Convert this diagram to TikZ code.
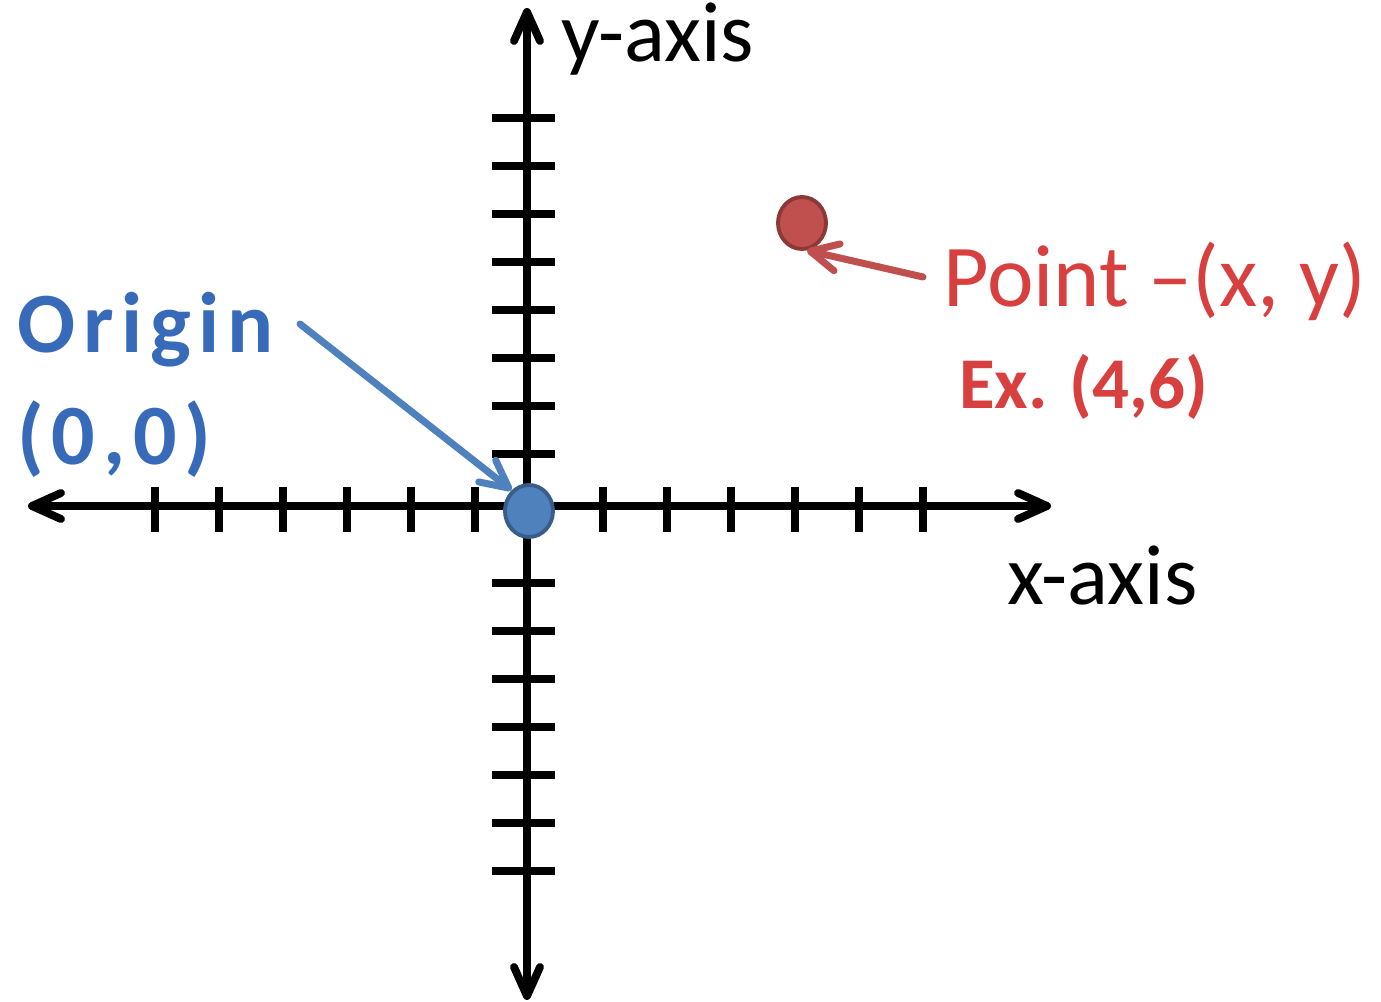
\documentclass[tikz,border=0pt]{standalone}
\usepackage{fontspec}
\setmainfont{Carlito}
\newfontfamily\spacedfont[LetterSpace=9]{Carlito}
\usetikzlibrary{arrows.meta,shapes.geometric}

\definecolor{ptblue}{HTML}{4F81BD}
\definecolor{ptblueedge}{HTML}{385D8A}
\definecolor{ptred}{HTML}{C0504D}
\definecolor{ptrededge}{HTML}{8C3836}
\definecolor{txtblue}{RGB}{56,106,186}
\definecolor{txtred}{RGB}{216,64,64}

\tikzset{
  axisline/.style={line width=4.5pt,
    {Straight Barb[length=0.58cm,width=0.52cm,round]}-{Straight Barb[length=0.58cm,width=0.52cm,round]}},
  tickmark/.style={line width=4.3pt},
  pointdot/.style={ellipse, line width=2.2pt, minimum width=0.96cm, minimum height=1.04cm},
  labelarrow/.style={line width=4pt, line cap=round, -{Straight Barb[length=0.55cm,width=0.55cm,round]}},
  axislabel/.style={font=\fontsize{48.5}{53}\selectfont},
  bluelabel/.style={text=txtblue, font=\spacedfont\bfseries\fontsize{48.9}{54}\selectfont},
  redlabel/.style={text=txtred, font=\fontsize{50.2}{55}\selectfont}
}

\begin{document}
\begin{tikzpicture}[every node/.style={inner sep=0pt}]
    \useasboundingbox (-10.54,-9.92) rectangle (17.08,10.12);

    % Ejes
    \coordinate (xleft) at (-9.98,0);
    \coordinate (xright) at (10.48,0);
    \coordinate (ybottom) at (0,-9.88);
    \coordinate (ytop) at (0,9.96);
    \draw[axisline] (xleft) -- (xright);
    \draw[axisline] (ybottom) -- (ytop);

    % Marcas
    \foreach \x in {-7.44,-6.16,-4.88,-3.60,-2.32,-1.04,1.52,2.80,4.08,5.36,6.64,7.92}
        \draw[tickmark] (\x,0.38) -- (\x,-0.52);
    \foreach \y in {7.76,6.80,5.84,4.88,3.92,2.96,2.00,1.04,-1.54,-2.50,-3.46,-4.42,-5.38,-6.34,-7.30}
        \draw[tickmark] (-0.70,\y) -- (0.56,\y);

    \node[axislabel, anchor=base west] (ylabel) at (0.68,8.88) {y-axis};
    \node[axislabel, anchor=base west] (xlabel) at (9.60,-1.98) {x-axis};

    % Origen
    \node[pointdot, fill=ptblue, draw=ptblueedge] (bdot) at (0.04,-0.10) {};
    \node[bluelabel, anchor=base west] (origintext) at (-10.20,3.06) {Origin};
    \node[bluelabel, anchor=base west] (origincoord) at (-10.20,0.82) {(0,0)};
    \coordinate (btail) at (-4.54,3.64);
    \draw[labelarrow, ptblue] (btail) -- (bdot.130);

    % Punto
    \node[pointdot, fill=ptred, draw=ptrededge] (rdot) at (5.50,5.66) {};
    \node[redlabel, anchor=base west] (pointtext) at (8.32,3.98) {Point --(x, y)};
    \node[redlabel, font=\bfseries\fontsize{41.5}{46}\selectfont, anchor=base west] (pointex)
        at (8.64,1.94) {Ex. (4,6)};
    \coordinate (rtail) at (7.92,4.58);
    \draw[labelarrow, ptred] (rtail) -- (rdot.-80);
\end{tikzpicture}
\end{document}
